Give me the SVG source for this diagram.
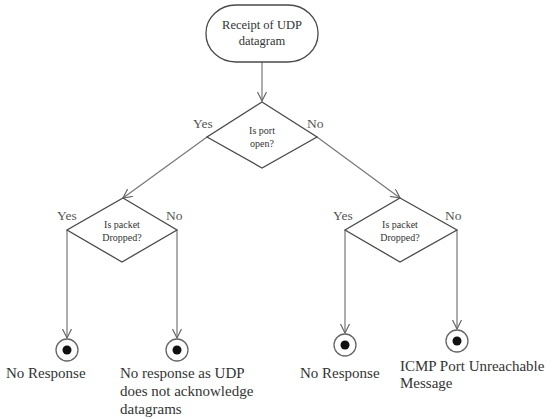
<svg xmlns="http://www.w3.org/2000/svg" width="552" height="419" viewBox="0 0 552 419">
  <style>
    .shape { fill: #ffffff; stroke: #4a4a4a; stroke-width: 1.3; }
    .edge { fill: none; stroke: #777777; stroke-width: 1.2; }
    .txt { font-family: "Liberation Serif", "Times New Roman", serif; fill: #333333; }
    .small { font-size: 10px; text-anchor: middle; }
    .start { font-size: 12.5px; text-anchor: middle; }
    .branch { font-size: 13.5px; fill: #555555; }
    .label { font-size: 15px; }
    .ring { fill: #ffffff; stroke: #666666; stroke-width: 1.3; }
    .dot { fill: #111111; }
  </style>
  <defs>
    <marker id="arrow" markerWidth="12" markerHeight="12" refX="9" refY="4.5" orient="auto" markerUnits="userSpaceOnUse">
      <path d="M0,0 L9,4.5 L0,9" fill="none" stroke="#666666" stroke-width="1.2"/>
    </marker>
  </defs>

  <!-- connectors -->
  <g id="connectors">
    <line class="edge" x1="262" y1="62" x2="262" y2="101" marker-end="url(#arrow)"/>
    <line class="edge" x1="207" y1="137" x2="123" y2="198" marker-end="url(#arrow)"/>
    <line class="edge" x1="317" y1="137" x2="400" y2="198" marker-end="url(#arrow)"/>
    <line class="edge" x1="67" y1="230" x2="67" y2="338" marker-end="url(#arrow)"/>
    <line class="edge" x1="177" y1="230" x2="177" y2="338" marker-end="url(#arrow)"/>
    <line class="edge" x1="345" y1="230" x2="345" y2="333" marker-end="url(#arrow)"/>
    <line class="edge" x1="457" y1="230" x2="457" y2="329" marker-end="url(#arrow)"/>
  </g>

  <!-- start -->
  <g id="start">
    <rect class="shape" x="206" y="5" width="112" height="57" rx="30" ry="28"/>
    <text class="txt start" x="262" y="29">Receipt of UDP</text>
    <text class="txt start" x="262" y="45">datagram</text>
  </g>

  <!-- port decision -->
  <g id="port-open">
    <polygon class="shape" points="262,102 317,137 262,168 207,137"/>
    <text class="txt small" x="262" y="134">Is port</text>
    <text class="txt small" x="262" y="147">open?</text>
    <text class="txt branch" x="193" y="128">Yes</text>
    <text class="txt branch" x="307" y="128">No</text>
  </g>

  <!-- dropped decision, open port -->
  <g id="dropped-open">
    <polygon class="shape" points="123,198 177,230 122,262 67,230"/>
    <text class="txt small" x="122" y="228">Is packet</text>
    <text class="txt small" x="122" y="241">Dropped?</text>
    <text class="txt branch" x="57" y="220">Yes</text>
    <text class="txt branch" x="166" y="220">No</text>
  </g>

  <!-- dropped decision, closed port -->
  <g id="dropped-closed">
    <polygon class="shape" points="400,198 457,230 400,262 345,230"/>
    <text class="txt small" x="400" y="228">Is packet</text>
    <text class="txt small" x="400" y="241">Dropped?</text>
    <text class="txt branch" x="333" y="220">Yes</text>
    <text class="txt branch" x="445" y="220">No</text>
  </g>

  <!-- end states -->
  <g id="end-no-response-1">
    <circle class="ring" cx="67" cy="350" r="11"/>
    <circle class="dot" cx="67" cy="350" r="4.5"/>
    <text class="txt label" x="6" y="378">No Response</text>
  </g>
  <g id="end-no-ack">
    <circle class="ring" cx="177" cy="350" r="11"/>
    <circle class="dot" cx="177" cy="350" r="4.5"/>
    <text class="txt label" x="120" y="378">No response as UDP</text>
    <text class="txt label" x="120" y="396">does not acknowledge</text>
    <text class="txt label" x="120" y="414">datagrams</text>
  </g>
  <g id="end-no-response-2">
    <circle class="ring" cx="345" cy="345" r="11"/>
    <circle class="dot" cx="345" cy="345" r="4.5"/>
    <text class="txt label" x="300" y="378">No Response</text>
  </g>
  <g id="end-icmp">
    <circle class="ring" cx="457" cy="341" r="11"/>
    <circle class="dot" cx="457" cy="341" r="4.5"/>
    <text class="txt label" x="400" y="371">ICMP Port Unreachable</text>
    <text class="txt label" x="400" y="388">Message</text>
  </g>
</svg>
